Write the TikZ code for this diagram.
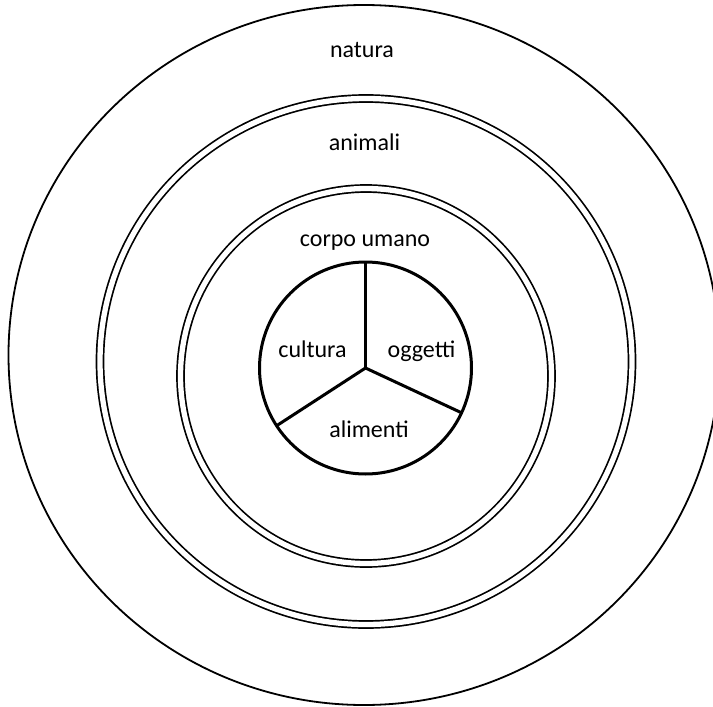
\documentclass[tikz,border=0pt]{standalone}
\usepackage{fontspec}
\setmainfont{Carlito}
\begin{document}
\begin{tikzpicture}[x=1pt,y=-1pt,
  ring/.style={line width=1.8pt},
  dring/.style={line width=1.7pt, double, double distance=5.3pt},
  lbl/.style={anchor=base, inner sep=0pt, font=\fontsize{24}{28}\selectfont},
  spoke/.style={line width=3pt}]
\useasboundingbox (0,0) rectangle (713,707);
\clip (0,0) rectangle (713,707);
\fill[white] (0,0) rectangle (713,707);
% outer ring: natura
\draw[ring] (364,355) ellipse [x radius=355.5, y radius=350];
% animali
\draw[dring] (366,361.5) ellipse [x radius=266, y radius=263];
% corpo umano
\draw[dring] (366,376) ellipse [x radius=185.5, y radius=187.5];
% core
\node[circle, draw, line width=3pt, minimum size=212pt, inner sep=0pt, outer sep=0pt] (core) at (365.5,368) {};
\coordinate (hub) at (365.5,368);
\draw[spoke] (hub) -- (core.90);
\draw[spoke] (hub) -- (core.-147.5);
\draw[spoke] (hub) -- (core.-25.5);
% labels
\node[lbl] (natura) at (362,57) {natura};
\node[lbl] (animali) at (364.5,150) {animali};
\node[lbl] (corpo) at (365,246) {corpo umano};
\node[lbl] (cultura) at (312.5,357) {cultura};
\node[lbl] (oggetti) at (421.5,357) {oggetti};
\node[lbl] (alimenti) at (369,437) {alimenti};
\end{tikzpicture}
\end{document}
